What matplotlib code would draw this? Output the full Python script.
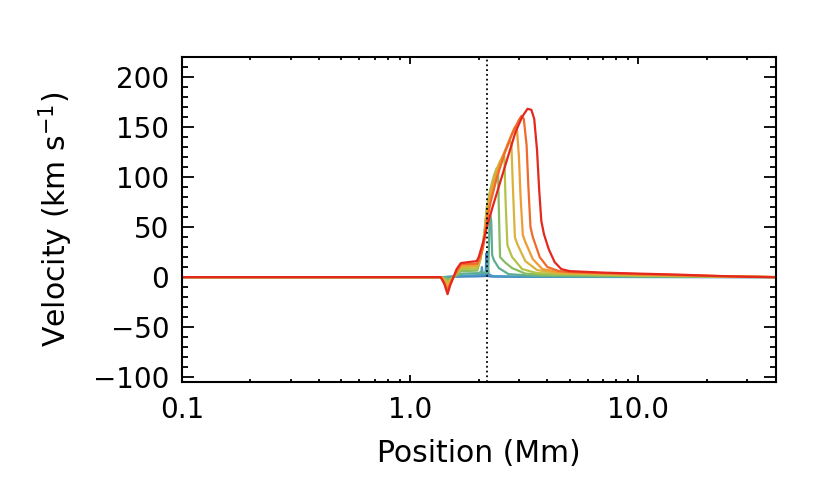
import matplotlib
matplotlib.use("Agg")
import matplotlib.pyplot as plt
from matplotlib.ticker import FixedLocator, FuncFormatter, MultipleLocator, LogLocator, NullFormatter

plt.rcParams['font.family'] = ['DejaVu Sans']

# position (Mm) / velocity (km/s) for each time step, early (blue) to late (red)
pos_blue = [0.1, 1.4, 1.7, 2.0, 2.14, 2.165, 2.175, 2.19, 2.3, 3, 10, 40]
vel_blue = [0, 0, 0.5, 0.8, 1, 24, 8, 1, 0.5, 0.3, 0.1, 0]

pos_lblue = [0.1, 1.4, 1.7, 2.0, 2.05, 2.065, 2.08, 2.15, 2.18, 2.21, 2.3, 3, 10, 40]
vel_lblue = [0, 0, 1.5, 2, 2, 10, 2.5, 3, 14, 3, 1, 0.5, 0.2, 0]

pos_teal = [0.1, 1.4, 1.5, 1.7, 2.0, 2.06, 2.1, 2.2, 2.235, 2.25, 2.27, 2.29, 2.33, 2.45, 2.7, 3.5, 10, 40]
vel_teal = [0, 0, -1, 3.5, 4, 6, 4, 5, 62, 62, 55, 22, 17, 9, 3, 1.2, 0.5, 0]

pos_green = [0.1, 1.38, 1.46, 1.55, 1.68, 1.97, 2.03, 2.08, 2.12, 2.17, 2.25, 2.33, 2.40, 2.43, 2.46, 2.48, 2.6, 2.8, 3.2, 4, 10, 40]
vel_green = [0, 0, -3, 0, 6, 6.5, 17, 30, 46, 70, 88, 101, 109, 105, 50, 20, 15, 9, 3.5, 2, 1, 0]

pos_ygreen = [0.1, 1.38, 1.46, 1.55, 1.67, 1.97, 2.03, 2.08, 2.12, 2.17, 2.25, 2.35, 2.45, 2.55, 2.59, 2.62, 2.67, 2.8, 3.1, 3.6, 10, 40]
vel_ygreen = [0, 0, -5, 0, 8, 8.5, 18, 30, 45, 68, 86, 102, 113, 121, 120, 78, 32, 20, 8, 4, 1.5, 0]

pos_yellow = [0.1, 1.38, 1.46, 1.55, 1.67, 1.97, 2.03, 2.08, 2.12, 2.17, 2.25, 2.35, 2.45, 2.6, 2.74, 2.78, 2.82, 2.88, 2.95, 3.2, 3.6, 4.5, 10, 40]
vel_yellow = [0, 0, -7, 0, 10, 10.5, 19, 30, 43, 65, 84, 100, 112, 125, 136, 133, 92, 40, 33, 16, 7, 4, 2, 0]

pos_orange = [0.1, 1.37, 1.46, 1.55, 1.67, 1.97, 2.03, 2.08, 2.12, 2.17, 2.25, 2.35, 2.5, 2.7, 2.88, 2.94, 3.0, 3.05, 3.12, 3.2, 3.45, 3.8, 4.5, 10, 40]
vel_orange = [0, 0, -10, 0, 11.5, 12, 20, 29, 41, 61, 80, 97, 116, 135, 150, 148, 120, 80, 42, 35, 18, 8, 5, 2.5, 0]

pos_dorange = [0.1, 1.37, 1.46, 1.55, 1.67, 1.97, 2.03, 2.08, 2.12, 2.17, 2.25, 2.4, 2.6, 2.8, 3.0, 3.08, 3.15, 3.24, 3.3, 3.37, 3.45, 3.7, 4.0, 4.5, 5, 10, 20, 40]
vel_dorange = [0, 0, -13, 0, 13, 13.5, 20, 28, 38, 56, 74, 99, 124, 143, 157, 161, 158, 132, 90, 50, 40, 20, 10, 6, 5, 3, 1.2, 0]

pos_red = [0.1, 1.36, 1.41, 1.46, 1.5, 1.55, 1.6, 1.67, 1.8, 1.96, 2.0, 2.06, 2.12, 2.17, 2.3, 2.5, 2.7, 2.9, 3.1, 3.27,
           3.4, 3.5, 3.6, 3.68, 3.76, 3.86, 4.05, 4.3, 4.6, 5.0, 7, 10, 15, 20, 30, 40]
vel_red = [0, 0, -6, -17, -8, 0, 8, 14, 15, 16, 20, 30, 40, 50, 70, 97, 122, 145, 160, 168,
           167, 158, 127, 87, 56, 43, 28, 15, 8, 6, 4.5, 3.5, 2.5, 1.5, 0.3, 0]

curves = [
    (pos_blue, vel_blue, '#3b80c6'),
    (pos_lblue, vel_lblue, '#4b9bc0'),
    (pos_teal, vel_teal, '#60ae92'),
    (pos_green, vel_green, '#88bc60'),
    (pos_ygreen, vel_ygreen, '#b4c246'),
    (pos_yellow, vel_yellow, '#dab33b'),
    (pos_orange, vel_orange, '#ee9c33'),
    (pos_dorange, vel_dorange, '#ef6b2b'),
    (pos_red, vel_red, '#e4281e'),
]

marker_pos = 2.17
xticks = [0.1, 1.0, 10.0]

fig = plt.figure(figsize=(8.3, 4.98), dpi=100)
ax = fig.add_axes([0.219, 0.2323, 0.7156, 0.6538])

for p, v, c in curves:
    ax.plot(p, v, color=c, lw=1.6)

ax.axvline(marker_pos, color='k', ls=':', lw=1.3)

ax.set_xscale('log')
ax.set_xlim(0.1, 40)
ax.set_ylim(-105, 220)

ax.xaxis.set_major_locator(FixedLocator(xticks))
ax.xaxis.set_major_formatter(FuncFormatter(lambda x, p: '%.1f' % x))
ax.xaxis.set_minor_locator(LogLocator(base=10, subs=range(2, 10), numticks=20))
ax.xaxis.set_minor_formatter(NullFormatter())
ax.yaxis.set_major_locator(MultipleLocator(50))
ax.yaxis.set_minor_locator(MultipleLocator(10))

for s in ax.spines.values():
    s.set_linewidth(1.5)

ax.tick_params(axis='both', which='both', direction='in', top=True, right=True,
               labelsize=20, width=1.3, color='k')
ax.tick_params(axis='x', which='major', length=4.7, pad=10)
ax.tick_params(axis='x', which='minor', length=2.4)
ax.tick_params(axis='y', which='major', length=8.6, pad=9)
ax.tick_params(axis='y', which='minor', length=4.3)

ax.set_xlabel('Position (Mm)', fontsize=21.5, labelpad=11)
ax.set_ylabel('Velocity (km s$^{-1}$)', fontsize=21.5, labelpad=13)

fig.savefig('out.png', dpi=100)
